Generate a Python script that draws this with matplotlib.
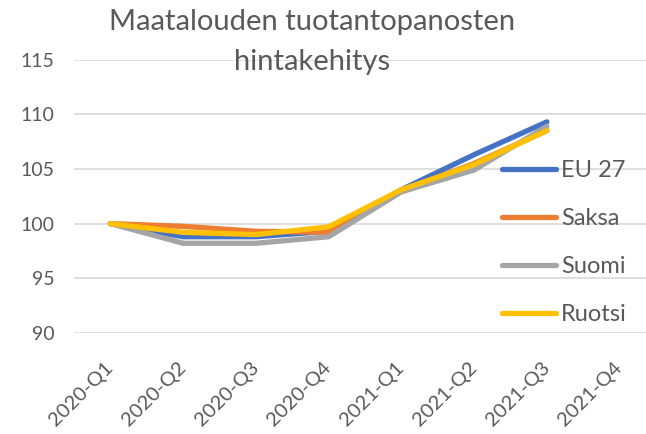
import matplotlib
matplotlib.use("Agg")
import matplotlib.pyplot as plt
import matplotlib.transforms as mtransforms

plt.rcParams['font.family'] = ['Lato', 'DejaVu Sans']

quarters = ["2020-Q1", "2020-Q2", "2020-Q3", "2020-Q4",
            "2021-Q1", "2021-Q2", "2021-Q3", "2021-Q4"]
eu27 = [100, 98.8, 98.8, 99.3, 103.1, 106.3, 109.3]
saksa = [100, 99.75, 99.3, 99.2, 103.0, 105.5, 108.5]
suomi = [100, 98.2, 98.2, 98.8, 102.9, 104.9, 108.9]
ruotsi = [100, 99.2, 99.0, 99.7, 103.1, 105.4, 108.5]

series = [("EU 27", eu27, "#4472C4"),
          ("Saksa", saksa, "#ED7D31"),
          ("Suomi", suomi, "#A5A5A5"),
          ("Ruotsi", ruotsi, "#FFC000")]

fig = plt.figure(figsize=(6.46, 4.34), dpi=100)
ax = fig.add_axes([74 / 646, 1 - 333 / 434, 582 / 646, (333 - 59.5) / 434])

for name, vals, col in series:
    ax.plot(range(len(vals)), vals, color=col, lw=3.8, label=name,
            solid_capstyle="round", solid_joinstyle="round")

ax.set_xlim(-0.5, 7.5)
ax.set_ylim(90, 115)
ax.set_yticks(range(90, 116, 5))
ax.set_xticks(range(len(quarters)))
ax.set_xticklabels(quarters, rotation=45, ha="right", rotation_mode="anchor")
ax.grid(axis="y", color="#D9D9D9", lw=1.2)
ax.set_axisbelow(True)
for s in ax.spines.values():
    s.set_visible(False)
ax.tick_params(length=0, colors="#595959")
ax.tick_params(axis="y", labelsize=14, pad=14)
ax.tick_params(axis="x", labelsize=14.5, pad=10)
shift = mtransforms.ScaledTranslation(-0.06, -0.12, fig.dpi_scale_trans)
for t in ax.get_xticklabels():
    t.set_transform(t.get_transform() + shift)

leg = ax.legend(frameon=False, loc="upper left", bbox_to_anchor=(502 / 646, 1 - 160 / 434),
                bbox_transform=fig.transFigure, fontsize=17, labelspacing=1.15,
                handlelength=2.3, handletextpad=0.2, borderpad=0, borderaxespad=0,
                labelcolor="#595959")

fig.text(312 / 646, 1 - 22 / 434, "Maatalouden tuotantopanosten", fontsize=21,
         color="#595959", va="center", ha="center")
fig.text(312 / 646, 1 - 62 / 434, "hintakehitys", fontsize=21,
         color="#595959", va="center", ha="center")

fig.savefig("out.png", dpi=100, facecolor="white")
